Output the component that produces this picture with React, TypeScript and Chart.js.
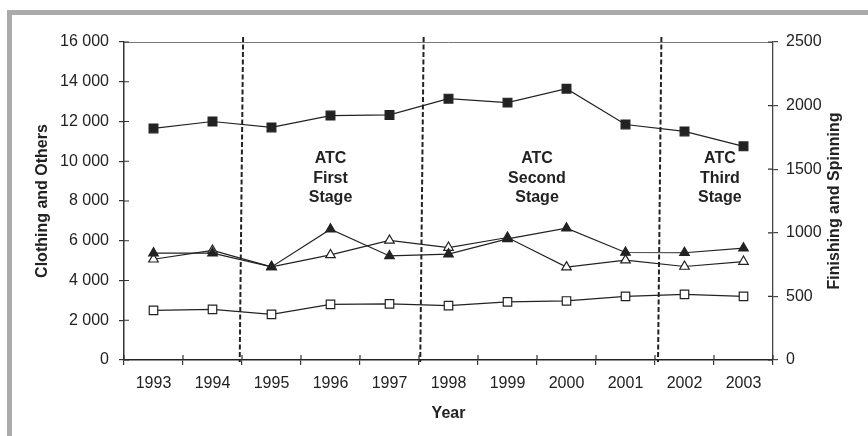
import { useEffect, useRef } from 'react';
import { Chart, registerables } from 'chart.js';

Chart.register(...registerables);

const years = ['1993', '1994', '1995', '1996', '1997', '1998', '1999', '2000', '2001', '2002', '2003'];
const clothing = [11650, 12000, 11700, 12300, 12330, 13150, 12950, 13650, 11850, 11500, 10750];
const others = [2500, 2550, 2300, 2800, 2820, 2740, 2920, 2970, 3200, 3300, 3200];
const finishing = [840, 840, 732, 1028, 818, 832, 952, 1036, 845, 843, 879];
const spinning = [792, 861, 732, 826, 940, 884, 963, 730, 785, 735, 774];

const leftMax = 16000;
const leftStep = 2000;
const rightMax = 2500;
const rightStep = 500;

const stageLabels = [
  ['ATC', 'First', 'Stage'],
  ['ATC', 'Second', 'Stage'],
  ['ATC', 'Third', 'Stage'],
];
const stageLabelX = [3, 6.5, 9.6];
const stageLabelY = 9150;
const stageBoundaries = [1.49, 4.55, 8.58];

const leftTitle = 'Clothing and Others';
const rightTitle = 'Finishing and Spinning';
const xTitle = 'Year';

const FONT = '"Liberation Sans", Arial, sans-serif';
const INK = '#222';

const fmtSpace = (v: number) => String(v).replace(/\B(?=(\d{3})+(?!\d))/g, ' ');

const decorPlugin = {
  id: 'decor',
  beforeDraw(chart: any) {
    const ctx = chart.ctx;
    ctx.save();
    ctx.fillStyle = '#ababab';
    ctx.fillRect(7, 10, chart.width - 7, 5);
    ctx.fillRect(7, 10, 5, chart.height - 10);
    ctx.restore();
  },
  afterDraw(chart: any) {
    const ctx = chart.ctx;
    const { top, bottom, left, right } = chart.chartArea;
    const xs = chart.scales.x;
    const yl = chart.scales.yLeft;
    const yr = chart.scales.yRight;
    ctx.save();
    // top frame line
    ctx.strokeStyle = '#777';
    ctx.lineWidth = 1;
    ctx.beginPath();
    ctx.moveTo(left, top + 0.5);
    ctx.lineTo(right, top + 0.5);
    ctx.stroke();

    // inner tick marks
    ctx.strokeStyle = '#333';
    ctx.lineWidth = 1.2;
    ctx.beginPath();
    for (let i = 0; i <= years.length; i++) {
      const x = xs.getPixelForValue(i - 0.5);
      ctx.moveTo(x, bottom);
      ctx.lineTo(x, bottom - 5);
    }
    yl.ticks.forEach((t: any) => {
      const y = yl.getPixelForValue(t.value);
      ctx.moveTo(left, y);
      ctx.lineTo(left + 5, y);
    });
    yr.ticks.forEach((t: any) => {
      const y = yr.getPixelForValue(t.value);
      ctx.moveTo(right, y);
      ctx.lineTo(right - 5, y);
    });
    ctx.stroke();

    // dashed stage boundaries
    ctx.strokeStyle = INK;
    ctx.lineWidth = 2;
    ctx.setLineDash([5, 2.5]);
    stageBoundaries.forEach((b) => {
      const x = xs.getPixelForValue(b);
      ctx.beginPath();
      ctx.moveTo(x + 1.7, top - 5);
      ctx.lineTo(x - 1.7, bottom + 2);
      ctx.stroke();
    });
    ctx.setLineDash([]);

    // stage labels
    ctx.fillStyle = INK;
    ctx.font = `bold 16px ${FONT}`;
    ctx.textAlign = 'center';
    ctx.textBaseline = 'middle';
    const cy = yl.getPixelForValue(stageLabelY);
    stageLabels.forEach((lines, i) => {
      const x = xs.getPixelForValue(stageLabelX[i]);
      lines.forEach((ln, j) => {
        ctx.fillText(ln, x, cy + (j - 1) * 19.5);
      });
    });

    // right title, reading bottom-to-top
    ctx.translate(835, (top + bottom) / 2);
    ctx.rotate(-Math.PI / 2);
    ctx.fillText(rightTitle, 0, 0);
    ctx.restore();
  },
};

export default function App() {
  const ref = useRef<HTMLCanvasElement | null>(null);

  useEffect(() => {
    if (!ref.current) return;
    Chart.defaults.font.family = FONT;
    Chart.defaults.color = INK;
    const lineCommon = {
      borderColor: INK,
      borderWidth: 1.2,
      pointBorderColor: INK,
      pointBorderWidth: 1.2,
      fill: false,
      tension: 0,
    };
    const chart = new Chart(ref.current, {
      type: 'line',
      data: {
        labels: years,
        datasets: [
          {
            ...lineCommon,
            label: 'Clothing',
            data: clothing,
            yAxisID: 'yLeft',
            pointStyle: 'rect',
            pointRadius: 6.2,
            pointBackgroundColor: INK,
          },
          {
            ...lineCommon,
            label: 'Others',
            data: others,
            yAxisID: 'yLeft',
            pointStyle: 'rect',
            pointRadius: 6,
            pointBackgroundColor: '#fff',
          },
          {
            ...lineCommon,
            label: 'Finishing',
            data: finishing,
            yAxisID: 'yRight',
            pointStyle: 'triangle',
            pointRadius: 5.5,
            pointBackgroundColor: INK,
          },
          {
            ...lineCommon,
            label: 'Spinning',
            data: spinning,
            yAxisID: 'yRight',
            pointStyle: 'triangle',
            pointRadius: 5.5,
            pointBackgroundColor: '#fff',
          },
        ],
      },
      options: {
        responsive: false,
        animation: false,
        layout: { padding: { top: 42, left: 0, right: 0, bottom: 0 } },
        plugins: {
          legend: { display: false },
          tooltip: { enabled: false },
        },
        scales: {
          x: {
            type: 'category',
            offset: true,
            grid: {
              offset: true,
              drawOnChartArea: false,
              drawTicks: true,
              tickLength: 5,
              color: '#333',
              lineWidth: 1.2,
            },
            border: { display: true, color: '#222', width: 1.5 },
            ticks: { font: { size: 16 }, color: INK, padding: 9, maxRotation: 0, autoSkip: false },
            title: {
              display: true,
              text: xTitle,
              font: { size: 16, weight: 'bold' },
              color: INK,
              padding: { top: 0, bottom: 13 },
            },
            afterFit: (s: any) => {
              s.height = 76;
            },
          },
          yLeft: {
            type: 'linear',
            position: 'left',
            min: 0,
            max: leftMax,
            grid: {
              drawOnChartArea: false,
              drawTicks: true,
              tickLength: 5,
              color: '#333',
              lineWidth: 1.2,
            },
            border: { display: true, color: '#333', width: 1.5 },
            ticks: {
              stepSize: leftStep,
              font: { size: 16 },
              color: INK,
              padding: 10,
              callback: (v: any) => fmtSpace(Number(v)),
            },
            title: {
              display: true,
              text: leftTitle,
              font: { size: 16, weight: 'bold' },
              color: INK,
              padding: { top: 33, bottom: 0 },
            },
            afterFit: (s: any) => {
              s.width = 124;
            },
          },
          yRight: {
            type: 'linear',
            position: 'right',
            min: 0,
            max: rightMax,
            grid: {
              drawOnChartArea: false,
              drawTicks: true,
              tickLength: 5,
              color: '#444',
              lineWidth: 1.2,
            },
            border: { display: true, color: '#444', width: 1.3 },
            ticks: {
              stepSize: rightStep,
              font: { size: 16 },
              color: INK,
              padding: 8,
              callback: (v: any) => String(v),
            },
            title: { display: false },
            afterFit: (s: any) => {
              s.width = 95;
            },
          },
        },
      } as any,
      plugins: [decorPlugin],
    });
    return () => chart.destroy();
  }, []);

  return (
    <div style={{ position: 'absolute', left: 0, top: 0, width: 868, height: 436, background: '#fff' }}>
      <canvas ref={ref} width={868} height={436} style={{ width: 868, height: 436, display: 'block' }} />
    </div>
  );
}
